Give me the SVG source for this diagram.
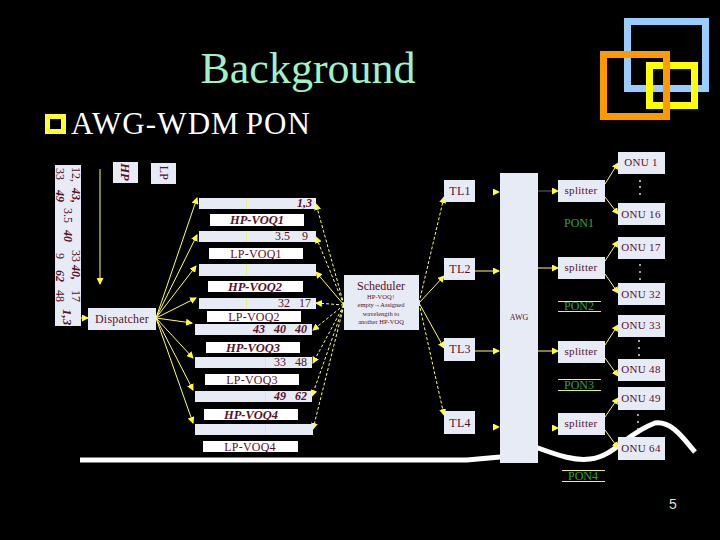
<svg xmlns="http://www.w3.org/2000/svg" width="720" height="540" viewBox="0 0 720 540">
<style>
text{font-family:"Liberation Serif","Times New Roman",serif;fill:#5a1028;text-anchor:middle}
.b{fill:#e6ebf6}
.w{fill:#fff}
.l{font-size:12px;letter-spacing:.2px}
.s{font-size:11px;letter-spacing:.3px}
.h{font-size:12.5px;font-weight:bold;font-style:italic}
.n{font-size:12px;text-anchor:end}
.ni{font-size:12px;text-anchor:end;font-weight:bold;font-style:italic}
.r{font-size:12px;text-anchor:start}
.ri{font-size:12px;text-anchor:start;font-weight:bold;font-style:italic}
.c{stroke:#ffff66;stroke-width:1;fill:none;marker-end:url(#a)}
.d{stroke-dasharray:3 2}
.g{font-size:12px;fill:#30a045}
.gl{stroke:#e8f070;stroke-width:1}
.v{stroke:#e6ee80;stroke-width:1}
</style>
<defs><marker id="a" markerUnits="userSpaceOnUse" markerWidth="7" markerHeight="7" refX="6" refY="3.5" orient="auto"><path d="M0 0L7 3.5L0 7Z" fill="#ffff33"/></marker></defs>
<rect width="720" height="540" fill="#000"/>
<g id="logo" fill="none" stroke-width="7">
<rect x="627.5" y="21.5" width="78" height="67" stroke="#99ccff"/>
<rect x="649.5" y="65.5" width="45" height="40" stroke="#ffff00"/>
<rect x="603.5" y="54.5" width="63" height="62" stroke="#ff9900"/>
</g>
<text x="308" y="83" style="font-size:44px;fill:#a0f0c8">Background</text>
<rect id="bullet" x="47.5" y="116.5" width="16" height="15" fill="none" stroke="#ffff33" stroke-width="5"/>
<text x="71" y="134" style="font-size:31px;fill:#fff;text-anchor:start;letter-spacing:1.1px;word-spacing:-3px">AWG-WDM PON</text>
<path id="cable" d="M80 460L467 460L500 457L538 448C560 456 575 461 590 459C615 456 625 434 655 423C672 421 683 438 695 452" fill="none" stroke="#fff" stroke-width="5"/>
<g id="connectors">
<path class="c" d="M100 169V284"/>
<path class="c" d="M81 318H88"/>
<path class="c" d="M156 318L197 198"/>
<path class="c" d="M156 318L197 235"/>
<path class="c" d="M156 318L196 266"/>
<path class="c" d="M156 318L196 298"/>
<path class="c" d="M156 318L192 323"/>
<path class="c" d="M156 318L193 358"/>
<path class="c" d="M156 318L193 390"/>
<path class="c" d="M156 318L193 423"/>
<path class="c d" d="M344 305L316 204"/>
<path class="c d" d="M344 305L316 237"/>
<path class="c" d="M344 305L316 272"/>
<path class="c d" d="M344 305L316 303"/>
<path class="c d" d="M344 305L313 330"/>
<path class="c d" d="M344 305L313 363"/>
<path class="c d" d="M344 305L312 396"/>
<path class="c d" d="M344 305L313 429"/>
<path class="c d" d="M419 303L444 197"/>
<path class="c" d="M419 303L444 276"/>
<path class="c" d="M419 303L444 348"/>
<path class="c d" d="M419 303L444 415"/>
<path class="c" d="M494 192H499" style="stroke:none"/>
<path class="c" d="M475 271H499"/>
<path class="c" d="M475 351H499"/>
<path class="c" d="M494 427H499" style="stroke:none"/>
<path class="c" d="M538 191H558" style="stroke:#666"/>
<path class="c" d="M538 268H558"/>
<path class="c" d="M538 351H558"/>
<path class="c" d="M552 428H558" style="stroke:none"/>
<path class="c" d="M605 184L618 163"/><path class="c" d="M605 197L618 214"/>
<path class="c" d="M605 261L618 241"/><path class="c" d="M605 274L618 293"/>
<path class="c" d="M605 345L618 325"/><path class="c" d="M605 358L618 376"/>
<path class="c" d="M605 417L618 398"/><path class="c" d="M605 430L618 448"/>
</g>
<g id="buffer"><rect class="b" x="55" y="165" width="26" height="161"/>
<text class="r" transform="translate(72 167) rotate(90)">12,</text>
<text class="ri" transform="translate(72 188) rotate(90)">43,</text>
<text class="r" transform="translate(72 250) rotate(90)">33</text>
<text class="ri" transform="translate(72 265) rotate(90)">40,</text>
<text class="r" transform="translate(72 290) rotate(90)">17</text>
<text class="r" transform="translate(64 208) rotate(90)">3.5</text>
<text class="ri" transform="translate(64 230) rotate(90)">40</text>
<text class="r" transform="translate(56 168) rotate(90)">33</text>
<text class="ri" transform="translate(56 190) rotate(90)">49</text>
<text class="r" transform="translate(56 253) rotate(90)">9</text>
<text class="ri" transform="translate(56 270) rotate(90)">62</text>
<text class="r" transform="translate(56 290) rotate(90)">48</text>
<text class="ri" transform="translate(63 309) rotate(90)" style="font-size:13px">1,3</text></g>
<g id="hp-label"><rect class="b" x="113" y="162" width="25" height="21"/><text class="h" transform="translate(121 172) rotate(90)">HP</text></g>
<g id="lp-label"><rect class="b" x="151" y="163" width="25" height="21"/><text class="l" transform="translate(160 173) rotate(90)">LP</text></g>
<g id="dispatcher"><rect class="b" x="88" y="308" width="68" height="22"/><text class="l" x="122" y="323">Dispatcher</text></g>
<g id="q1"><rect class="b" x="199" y="198" width="117" height="11"/><path class="v" d="M246.5 198v11"/><text class="ni" x="312" y="207">1,3</text></g>
<g id="hp1"><rect class="w" x="210" y="214" width="94" height="12"/><text class="h" x="257" y="224">HP-VOQ1</text></g>
<g id="q2"><rect class="b" x="199" y="231" width="117" height="11"/><path class="v" d="M246.5 231v11"/><text class="n" x="308" y="240" xml:space="preserve">3.5    9</text></g>
<g id="lp1"><rect class="w" x="209" y="248" width="94" height="11"/><text class="l" x="256" y="258">LP-VOQ1</text></g>
<g id="q3"><rect class="b" x="199" y="264" width="117" height="12"/><path class="v" d="M246.5 264v12"/></g>
<g id="hp2"><rect class="w" x="208" y="281" width="95" height="11"/><text class="h" x="255" y="291">HP-VOQ2</text></g>
<g id="q4"><rect class="b" x="199" y="298" width="117" height="11"/><path class="v" d="M246.5 298v11"/><text class="n" x="311" y="307" xml:space="preserve">32   17</text></g>
<g id="lp2"><rect class="w" x="207" y="311" width="94" height="11"/><text class="l" x="254" y="321">LP-VOQ2</text></g>
<g id="q5"><rect class="b" x="195" y="324" width="117" height="11"/><path class="v" d="M265.5 324v11"/><text class="ni" x="307" y="333" xml:space="preserve">43   40   40</text></g>
<g id="hp3"><rect class="w" x="206" y="342" width="94" height="11"/><text class="h" x="253" y="352">HP-VOQ3</text></g>
<g id="q6"><rect class="b" x="195" y="357" width="117" height="11"/><path class="v" d="M265.5 357v11"/><text class="n" x="307" y="366" xml:space="preserve">33   48</text></g>
<g id="lp3"><rect class="w" x="205" y="374" width="94" height="11"/><text class="l" x="252" y="384">LP-VOQ3</text></g>
<g id="q7"><rect class="b" x="195" y="391" width="117" height="11"/><path class="v" d="M265.5 391v11"/><text class="ni" x="307" y="400" xml:space="preserve">49   62</text></g>
<g id="hp4"><rect class="w" x="204" y="409" width="94" height="11"/><text class="h" x="251" y="419">HP-VOQ4</text></g>
<g id="q8"><rect class="b" x="195" y="424" width="118" height="11"/><path class="v" d="M265.5 424v11"/></g>
<g id="lp4"><rect class="w" x="203" y="441" width="95" height="11"/><text class="l" x="250" y="451">LP-VOQ4</text></g>
<g id="scheduler"><rect class="b" x="344" y="275" width="75" height="55"/><text x="381" y="290" style="font-size:12px">Scheduler</text>
<text x="381" y="299" style="font-size:6.5px">HP-VOQ↑</text><text x="381" y="307" style="font-size:6.5px">empty→Assigned</text><text x="381" y="316" style="font-size:6.5px">wavelength to</text><text x="381" y="324" style="font-size:6.5px">another HP-VOQ</text></g>
<g id="tl1"><rect class="b" x="444" y="180" width="31" height="22"/><text class="l" x="460" y="195">TL1</text></g>
<g id="tl2"><rect class="b" x="444" y="258" width="31" height="22"/><text class="l" x="460" y="273">TL2</text></g>
<g id="tl3"><rect class="b" x="444" y="338" width="31" height="23"/><text class="l" x="460" y="353">TL3</text></g>
<g id="tl4"><rect class="b" x="444" y="411" width="31" height="23"/><text class="l" x="460" y="427">TL4</text></g>
<g id="awg"><rect class="b" x="500" y="173" width="38" height="290"/><text x="519" y="320" style="font-size:8px">AWG</text></g>
<g id="sp1"><rect class="b" x="558" y="180" width="47" height="22"/><text class="s" x="581" y="194">splitter</text></g>
<g id="sp2"><rect class="b" x="558" y="257" width="47" height="22"/><text class="s" x="581" y="271">splitter</text></g>
<g id="sp3"><rect class="b" x="558" y="341" width="47" height="22"/><text class="s" x="581" y="355">splitter</text></g>
<g id="sp4"><rect class="b" x="558" y="413" width="47" height="22"/><text class="s" x="581" y="427">splitter</text></g>
<g id="o1"><rect class="b" x="618" y="152" width="47" height="22"/><text class="s" x="641" y="166">ONU 1</text></g>
<g id="o16"><rect class="b" x="618" y="203" width="47" height="22"/><text class="s" x="641" y="218">ONU 16</text></g>
<g id="o17"><rect class="b" x="618" y="237" width="47" height="22"/><text class="s" x="641" y="251">ONU 17</text></g>
<g id="o32"><rect class="b" x="618" y="283" width="47" height="22"/><text class="s" x="641" y="298">ONU 32</text></g>
<g id="o33"><rect class="b" x="618" y="315" width="47" height="22"/><text class="s" x="641" y="329">ONU 33</text></g>
<g id="o48"><rect class="b" x="618" y="359" width="47" height="22"/><text class="s" x="641" y="373">ONU 48</text></g>
<g id="o49"><rect class="b" x="618" y="387" width="47" height="23"/><text class="s" x="641" y="402">ONU 49</text></g>
<g id="o64"><rect class="b" x="618" y="437" width="47" height="23"/><text class="s" x="641" y="452">ONU 64</text></g>
<g id="dots" fill="#ddd"><circle cx="640" cy="181" r="1"/><circle cx="640" cy="187" r="1"/><circle cx="640" cy="194" r="1"/><circle cx="640" cy="265" r="1"/><circle cx="640" cy="272" r="1"/><circle cx="640" cy="279" r="1"/><circle cx="639" cy="341" r="1"/><circle cx="639" cy="348" r="1"/><circle cx="639" cy="355" r="1"/><circle cx="638" cy="415" r="1"/><circle cx="638" cy="422" r="1"/><circle cx="638" cy="429" r="1"/></g>
<g id="pon1"><text class="g" x="579" y="227">PON1</text></g>
<g id="pon2"><path class="gl" d="M558 301.5H601M558 311.5H601"/><text class="g" x="579" y="310">PON2</text></g>
<g id="pon3"><path class="gl" d="M558 379.5H601M558 390.5H601"/><text class="g" x="579" y="389">PON3</text></g>
<g id="pon4"><path class="gl" d="M562 470.5H605M562 481.5H605"/><text class="g" x="583" y="480">PON4</text></g>
<text x="673" y="509" style="font-size:14px;fill:#ddd;font-family:'Liberation Sans',Arial,sans-serif">5</text>
</svg>
